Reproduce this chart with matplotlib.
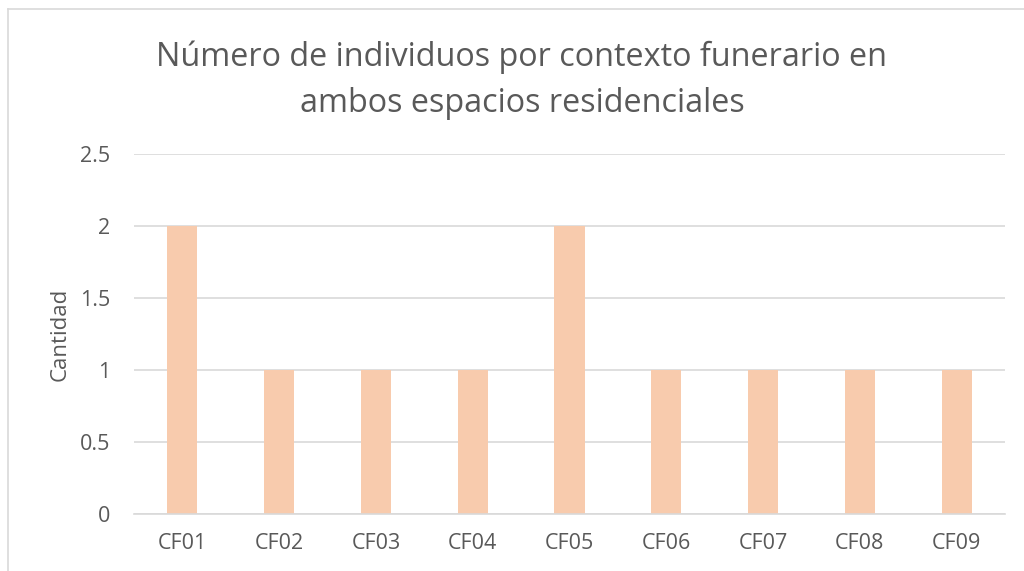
import matplotlib.pyplot as plt
from matplotlib.lines import Line2D

categorias = ['CF01', 'CF02', 'CF03', 'CF04', 'CF05', 'CF06', 'CF07', 'CF08', 'CF09']
cantidad = [2, 1, 1, 1, 2, 1, 1, 1, 1]
yticks = [0, 0.5, 1, 1.5, 2, 2.5]
ytick_labels = ['0', '0.5', '1', '1.5', '2', '2.5']

plt.rcParams['font.family'] = ['Open Sans', 'DejaVu Sans']
gris = '#595959'

W, H = 1024, 571
fig = plt.figure(figsize=(W / 100, H / 100), dpi=100)
ax = fig.add_axes([134 / W, 1 - 514 / H, (1005 - 134) / W, (514 - 154) / H])

ax.bar(range(len(categorias)), cantidad, width=0.31, color='#F8CBAD', zorder=2)
ax.set_xlim(-0.5, len(categorias) - 0.5)
ax.set_ylim(0, 2.5)
ax.set_yticks(yticks)
ax.set_yticklabels(ytick_labels)
ax.set_xticks(range(len(categorias)))
ax.set_xticklabels(categorias)
ax.grid(axis='y', color='#D9D9D9', linewidth=1.2, zorder=0)
for s in ['top', 'right', 'left']:
    ax.spines[s].set_visible(False)
ax.spines['bottom'].set_color('#D9D9D9')
ax.spines['bottom'].set_linewidth(1.2)
ax.tick_params(axis='both', length=0, colors=gris, labelsize=15.5)
ax.tick_params(axis='y', pad=17)
ax.tick_params(axis='x', pad=14)
ax.set_ylabel('Cantidad', color=gris, fontsize=16, labelpad=7)

fig.text(522 / W, 1 - 80 / H, 'Número de individuos por contexto funerario en\nambos espacios residenciales',
         ha='center', va='center', color=gris, fontsize=23.3, linespacing=1.52)

# borde del área del gráfico
fig.add_artist(Line2D([8 / W, 8 / W], [0, 1 - 9 / H], transform=fig.transFigure, color='#D9D9D9', linewidth=1.2))
fig.add_artist(Line2D([8 / W, 1], [1 - 9 / H, 1 - 9 / H], transform=fig.transFigure, color='#D9D9D9', linewidth=1.2))

fig.savefig('out.png', dpi=100)
